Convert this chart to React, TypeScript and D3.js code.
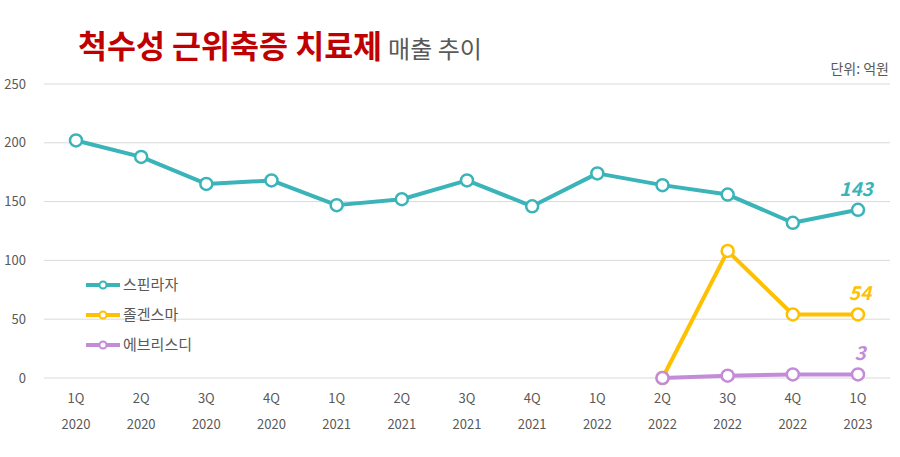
import { useRef, useEffect } from 'react';
import * as d3 from 'd3';

const quarters = ['1Q', '2Q', '3Q', '4Q', '1Q', '2Q', '3Q', '4Q', '1Q', '2Q', '3Q', '4Q', '1Q'];
const years = ['2020', '2020', '2020', '2020', '2021', '2021', '2021', '2021', '2022', '2022', '2022', '2022', '2023'];
const yTicks = [0, 50, 100, 150, 200, 250];

const spinraza = [202, 188, 165, 168, 147, 152, 168, 146, 174, 164, 156, 132, 143];
const zolgensma = [null, null, null, null, null, null, null, null, null, 0, 108, 54, 54];
const evrysdi = [null, null, null, null, null, null, null, null, null, 0, 2, 3, 3];

const seriesNames = ['스핀라자', '졸겐스마', '에브리스디'];
const seriesColors = ['#3BB4B9', '#FFC000', '#C48BD9'];
const seriesValues = [spinraza, zolgensma, evrysdi];

const FONT = '"Noto Sans CJK KR", "Noto Sans", sans-serif';

export default function App() {
  const svgRef = useRef<SVGSVGElement>(null);

  useEffect(() => {
    if (!svgRef.current) return;
    const svg = d3.select(svgRef.current);
    svg.selectAll('*').remove();

    const width = 900;
    const height = 457;

    const x = d3.scalePoint<number>()
      .domain(d3.range(quarters.length))
      .range([76, 858]);

    const y = d3.scaleLinear().domain([0, 250]).range([378, 84]);

    // Title
    const title = svg.append('text')
      .attr('x', 78)
      .attr('y', 58)
      .attr('font-family', FONT);
    title.append('tspan')
      .attr('font-size', 31.5)
      .attr('font-weight', 'bold')
      .attr('fill', '#C00000')
      .text('척수성 근위축증 치료제');
    title.append('tspan')
      .attr('dx', 6)
      .attr('font-size', 24)
      .attr('fill', '#595959')
      .text('매출 추이');

    svg.append('text')
      .attr('x', 889)
      .attr('y', 74)
      .attr('text-anchor', 'end')
      .attr('font-family', FONT)
      .attr('font-size', 14)
      .attr('fill', '#595959')
      .text('단위: 억원');

    // Grid
    svg.append('g')
      .selectAll('line')
      .data(yTicks)
      .join('line')
      .attr('x1', 44)
      .attr('x2', 890)
      .attr('y1', (d) => y(d))
      .attr('y2', (d) => y(d))
      .attr('stroke', '#D9D9D9')
      .attr('stroke-width', 1);

    svg.append('g')
      .selectAll('text')
      .data(yTicks)
      .join('text')
      .attr('x', 26)
      .attr('y', (d) => y(d) + 4.5)
      .attr('text-anchor', 'end')
      .attr('font-family', FONT)
      .attr('font-size', 13)
      .attr('fill', '#595959')
      .text((d) => d);

    // X labels
    const xl = svg.append('g')
      .attr('font-family', FONT)
      .attr('font-size', 13)
      .attr('fill', '#595959')
      .attr('text-anchor', 'middle');
    xl.selectAll('.q')
      .data(quarters)
      .join('text')
      .attr('class', 'q')
      .attr('x', (_, i) => x(i)!)
      .attr('y', 403)
      .text((d) => d);
    xl.selectAll('.yr')
      .data(years)
      .join('text')
      .attr('class', 'yr')
      .attr('x', (_, i) => x(i)!)
      .attr('y', 429)
      .text((d) => d);

    // Lines
    seriesValues.forEach((vals, si) => {
      const pts = vals
        .map((v, i) => ({ i, v }))
        .filter((d) => d.v !== null) as { i: number; v: number }[];
      const line = d3.line<{ i: number; v: number }>()
        .x((d) => x(d.i)!)
        .y((d) => y(d.v));
      svg.append('path')
        .datum(pts)
        .attr('fill', 'none')
        .attr('stroke', seriesColors[si])
        .attr('stroke-width', 4)
        .attr('stroke-linejoin', 'round')
        .attr('d', line);
      svg.append('g')
        .selectAll('circle')
        .data(pts)
        .join('circle')
        .attr('cx', (d) => x(d.i)!)
        .attr('cy', (d) => y(d.v))
        .attr('r', 6)
        .attr('fill', '#FFFFFF')
        .attr('stroke', seriesColors[si])
        .attr('stroke-width', 2.5);

      const last = pts[pts.length - 1];
      svg.append('text')
        .attr('x', x(last.i)! + (String(last.v).length > 2 ? -2 : 2))
        .attr('y', y(last.v) - 14)
        .attr('text-anchor', 'middle')
        .attr('font-family', FONT)
        .attr('font-size', 19)
        .attr('font-weight', 'bold')
        .attr('font-style', 'italic')
        .attr('fill', seriesColors[si])
        .text(last.v);
    });

    // Legend
    const legend = svg.append('g');
    seriesNames.forEach((name, i) => {
      const ly = 285 + i * 30;
      legend.append('line')
        .attr('x1', 86)
        .attr('x2', 120)
        .attr('y1', ly)
        .attr('y2', ly)
        .attr('stroke', seriesColors[i])
        .attr('stroke-width', 4);
      legend.append('circle')
        .attr('cx', 103)
        .attr('cy', ly)
        .attr('r', 3.5)
        .attr('fill', '#FFFFFF')
        .attr('stroke', seriesColors[i])
        .attr('stroke-width', 2);
      legend.append('text')
        .attr('x', 123)
        .attr('y', ly + 5)
        .attr('font-family', FONT)
        .attr('font-size', 15)
        .attr('fill', '#595959')
        .text(name);
    });

    svg.attr('width', width).attr('height', height);
  }, []);

  return (
    <svg
      ref={svgRef}
      width={900}
      height={457}
      style={{ position: 'absolute', left: 0, top: 0, background: '#FFFFFF' }}
    />
  );
}
